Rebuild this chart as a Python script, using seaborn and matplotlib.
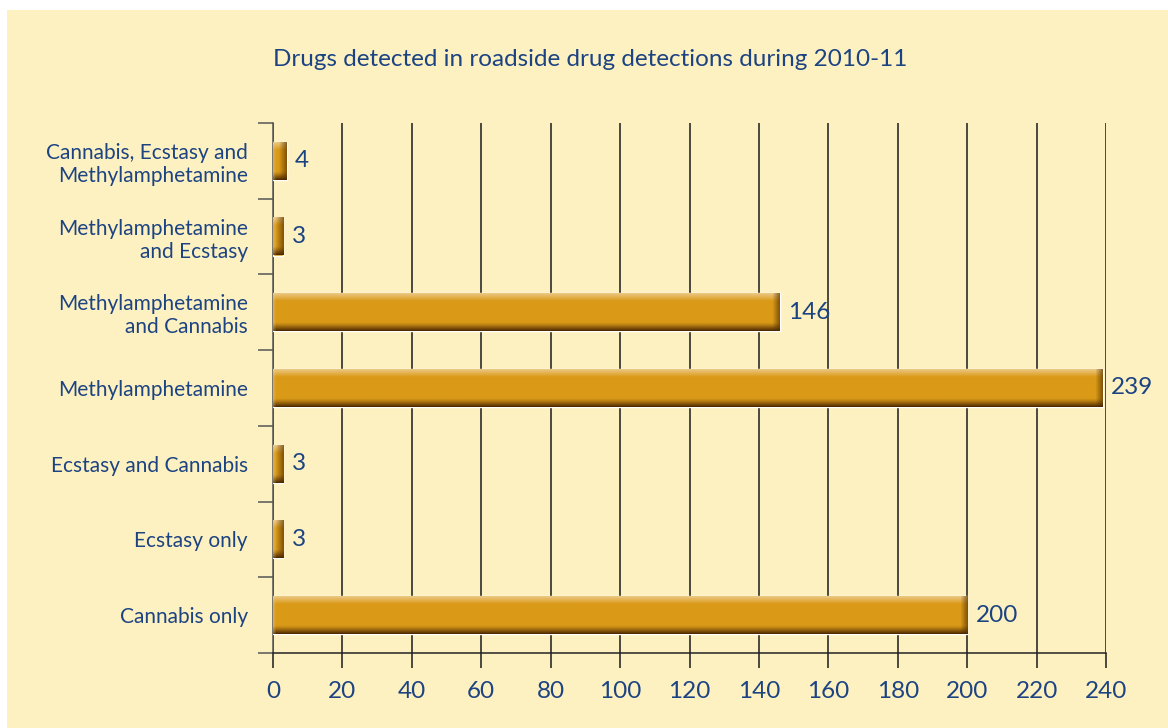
import numpy as np
import pandas as pd
import matplotlib
matplotlib.use("Agg")
import matplotlib.pyplot as plt
import seaborn as sns
from matplotlib.patches import Rectangle
from matplotlib.colors import to_rgb

# data
categories = ["Cannabis, Ecstasy and\nMethylamphetamine",
              "Methylamphetamine\nand Ecstasy",
              "Methylamphetamine\nand Cannabis",
              "Methylamphetamine",
              "Ecstasy and Cannabis",
              "Ecstasy only",
              "Cannabis only"]
counts = [4, 3, 146, 239, 3, 3, 200]
x_ticks = list(range(0, 241, 20))

df = pd.DataFrame({"Drug": categories, "Count": counts})

bg = "#FEF1C1"
txt = "#1C4382"
gold = "#DA9A18"

sns.set_style("white")
plt.rcParams["font.family"] = ["Lato", "DejaVu Sans"]

fig = plt.figure(figsize=(11.68, 7.28), dpi=100)
fig.patch.set_facecolor("white")
fig.patches.append(Rectangle((7 / 1168, 0), 1, 718 / 728, transform=fig.transFigure,
                             facecolor=bg, edgecolor="none", zorder=-10))
ax = fig.add_axes([273 / 1168, 1 - 653 / 728, 833 / 1168, 530 / 728])
ax.set_zorder(1)
ax.set_facecolor(bg)

sns.barplot(data=df, y="Drug", x="Count", orient="h", color=gold, width=0.5,
            saturation=1, ax=ax, zorder=3)

ax.set_xlim(0, 240)
ax.set_ylim(len(categories) - 0.5, -0.5)
xl, yl = ax.get_xlim(), ax.get_ylim()

# shaded "3D" look on each bar
px_per_unit = 833 / 240
base = np.array(to_rgb(gold))
light = np.array(to_rgb("#F0D29C"))
dark = np.array(to_rgb("#4E2A00"))
for p in ax.patches:
    x0, y0, w, h = p.get_x(), p.get_y(), p.get_width(), p.get_height()
    nrow = 40
    ncol = max(int(w * px_per_unit), 2)
    t = np.linspace(0, 1, nrow)[:, None]
    col = np.arange(ncol)[None, :]
    img = np.tile(base, (nrow, ncol, 1))
    top = np.clip((0.2 - t) / 0.2, 0, 1)[..., None]
    bot = np.clip((t - 0.78) / 0.22, 0, 1)[..., None] ** 1.2
    img = img * (1 - top * 0.8) + light * top * 0.8
    img = img * (1 - bot) + dark * bot
    right = np.clip((col - (ncol - 8)) / 8, 0, 1)[..., None]
    img = img * (1 - right * 0.7) + dark * right * 0.7
    left = np.clip((3 - col) / 3, 0, 1)[..., None]
    img = img * (1 - left * 0.3) + light * left * 0.3
    ax.imshow(img, extent=(x0, x0 + w, y0 + h, y0), origin="upper",
              aspect="auto", zorder=4, interpolation="bilinear")
ax.set_xlim(xl)
ax.set_ylim(yl)

ax.bar_label(ax.containers[0], labels=[str(v) for v in counts], padding=6,
             fontsize=17.5, color=txt, zorder=5)

# grid and axes
ax.set_xticks(x_ticks)
ax.xaxis.grid(True, color="#1a1a1a", linewidth=1.1, zorder=1)
ax.set_axisbelow(True)
for s in ["top", "right"]:
    ax.spines[s].set_visible(False)
ax.spines["bottom"].set_color("#222222")
ax.spines["bottom"].set_linewidth(1.1)
ax.spines["left"].set_color("#555555")
ax.spines["left"].set_linewidth(1.1)

ax.tick_params(axis="x", bottom=True, length=11, width=1.1, color="#1a1a1a", pad=9,
               labelsize=17.5, labelcolor=txt, direction="out")
ax.set_yticks(np.arange(-0.5, len(categories)), minor=True)
ax.tick_params(axis="y", which="minor", left=True, length=11, width=1.1,
               color="#555555", direction="out")
ax.tick_params(axis="y", which="major", left=False, length=0, pad=18,
               labelsize=15, labelcolor=txt)
ax.set_yticklabels(categories, ha="right", linespacing=1.2)

ax.set_xlabel("")
ax.set_ylabel("")

fig.text(0.505, 1 - 60 / 728, "Drugs detected in roadside drug detections during 2010-11",
         ha="center", va="center", fontsize=17.5, color=txt)

fig.savefig("out.png", dpi=100, facecolor="white")
